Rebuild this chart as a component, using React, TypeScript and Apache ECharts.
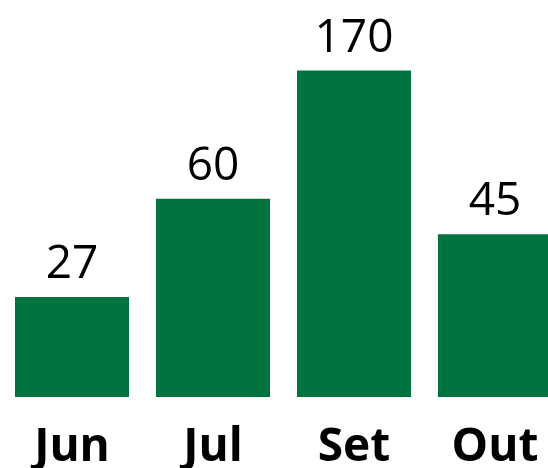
import React, { useEffect, useRef } from "react";
import * as echarts from "echarts";

const categories = ["Jun", "Jul", "Set", "Out"];
const values = [27, 60, 170, 45];

export default function App() {
  const ref = useRef<HTMLDivElement>(null);
  useEffect(() => {
    if (!ref.current) return;
    const chart = echarts.init(ref.current, null, { renderer: "svg" });
    chart.setOption({
      animation: false,
      grid: {
        left: 1.5,
        top: 23,
        right: -17.5,
        bottom: 71,
        containLabel: false,
        outerBoundsMode: "none",
      },
      xAxis: {
        type: "category",
        data: categories,
        axisLine: { show: false },
        axisTick: { show: false },
        axisLabel: {
          fontFamily: "Open Sans",
          fontWeight: "bold",
          fontSize: 46,
          lineHeight: 36,
          color: "#000",
          margin: 28,
        },
      },
      yAxis: {
        type: "log",
        min: 12,
        max: 250,
        show: false,
        splitLine: { show: false },
      },
      series: [
        {
          type: "bar",
          data: values,
          barWidth: 114,
          itemStyle: { color: "#00743E" },
          label: {
            show: true,
            position: "top",
            distance: 14,
            fontFamily: "Open Sans",
            fontSize: 46,
            color: "#000",
          },
        },
      ],
    });
    return () => chart.dispose();
  }, []);
  return (
    <div
      ref={ref}
      style={{ position: "fixed", left: 0, top: 0, width: 548, height: 468 }}
    />
  );
}
